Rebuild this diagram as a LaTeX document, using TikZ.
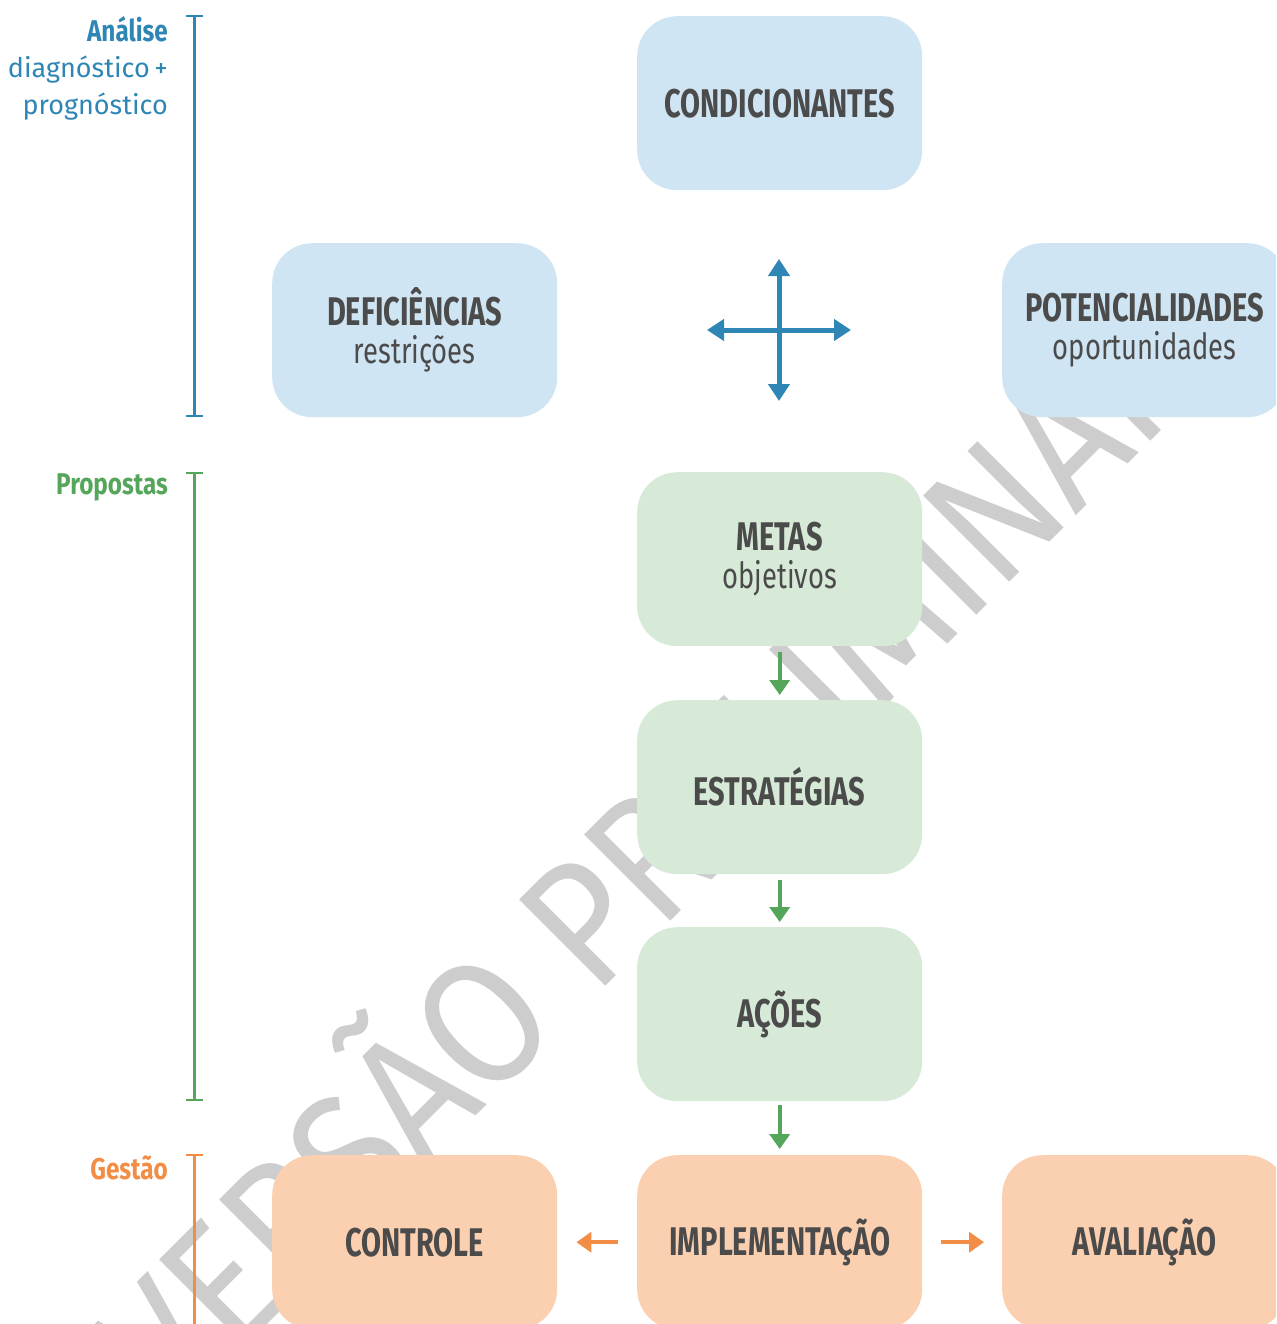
\documentclass[tikz,border=0pt]{standalone}
\usepackage{fontspec}
\setmainfont{Fira Sans}
\usetikzlibrary{arrows.meta}
\definecolor{bluebox}{HTML}{CFE5F3}
\definecolor{bluec}{HTML}{2E86B5}
\definecolor{greenbox}{HTML}{D7EAD8}
\definecolor{greenc}{HTML}{55A65A}
\definecolor{orangebox}{HTML}{FAD0B1}
\definecolor{orangec}{HTML}{F28D45}
\definecolor{txt}{HTML}{4B4B4B}
\definecolor{wmgray}{HTML}{CDCDCD}
\newcommand{\bigt}[1]{\scalebox{0.725}[1]{\fontsize{40}{38}\selectfont\bfseries #1}}
\newcommand{\smallt}[1]{\scalebox{0.76}[1]{\fontsize{36}{38}\selectfont #1}}
\newcommand{\sidet}[1]{\scalebox{0.81}[1]{\bfseries #1}}
\begin{document}
\begin{tikzpicture}[x=1pt,y=-1pt,
  box/.style={rounded corners=40pt, minimum width=285pt, minimum height=174pt,
    anchor=north west, align=center, text=txt, inner sep=0pt,
    font=\fontsize{36}{38}\selectfont},
  bluebx/.style={box, fill=bluebox},
  greenbx/.style={box, fill=greenbox},
  orangebx/.style={box, fill=orangebox},
  crossarrow/.style={bluec, line width=5pt, {Triangle[width=21pt,length=17pt]}-{Triangle[width=21pt,length=17pt]}},
  garrow/.style={greenc, line width=4pt, -{Triangle[width=20pt,length=15pt]}},
  oarrow/.style={orangec, line width=4pt, -{Triangle[width=20pt,length=15pt]}},
  lbl/.style={anchor=east, inner sep=0pt, align=right},
  brk/.style={line width=2.5pt}
]
\useasboundingbox (0,0) rectangle (1276,1324);
\clip (0,0) rectangle (1276,1324);

% watermark
\node[text=wmgray, rotate=45, anchor=base, font=\fontsize{177}{177}\selectfont, inner sep=0pt] (wm) at (690,902) {\scalebox{0.9}[1]{VERSÃO PRELIMINAR}};

% boxes
\node[bluebx] (cond) at (637,16) {\bigt{CONDICIONANTES}};
\node[bluebx] (defic) at (272,243) {\bigt{DEFICIÊNCIAS}\\\smallt{restrições}};
\node[bluebx] (poten) at (1002,243) {\bigt{POTENCIALIDADES}\\\smallt{oportunidades}};
\node[greenbx] (metas) at (637,472) {\bigt{METAS}\\\smallt{objetivos}};
\node[greenbx] (estr) at (637,700) {\bigt{ESTRATÉGIAS}};
\node[greenbx] (acoes) at (637,927) {\bigt{AÇÕES}};
\node[orangebx] (impl) at (637,1155) {\bigt{IMPLEMENTAÇÃO}};
\node[orangebx] (ctrl) at (272,1155) {\bigt{CONTROLE}};
\node[orangebx] (aval) at (1002,1155) {\bigt{AVALIAÇÃO}};

% cross
\coordinate (ct) at (779,259);
\coordinate (cb) at (779,401);
\coordinate (cl) at (707,330);
\coordinate (cr) at (851,330);
\draw[crossarrow] (ct) -- (cb);
\draw[crossarrow] (cl) -- (cr);

% flow arrows
\draw[garrow, shorten <=6pt, shorten >=5pt] (metas) -- (estr);
\draw[garrow, shorten <=6pt, shorten >=5pt] (estr) -- (acoes);
\draw[garrow, shorten <=4pt, shorten >=6pt] (acoes) -- (impl);
\draw[oarrow, shorten <=19pt, shorten >=19pt] (impl) -- (ctrl);
\draw[oarrow, shorten <=19pt, shorten >=18pt] (impl) -- (aval);

% side brackets
\draw[bluec, brk] (186,16) -- (203,16) (194.5,16) -- (194.5,416) (186,416) -- (203,416);
\draw[greenc, brk] (186,473) -- (203,473) (194.5,473) -- (194.5,1100) (186,1100) -- (203,1100);
\draw[orangec, brk] (186,1155) -- (203,1155) (194.5,1155) -- (194.5,1330);

% side labels
\node[lbl, text=bluec, font=\fontsize{30}{30}\selectfont] (lanal) at (168,29) {\sidet{Análise}};
\node[lbl, text=bluec, font=\fontsize{27}{27}\selectfont] (ldiag) at (168,70) {diagnóstico\,+};
\node[lbl, text=bluec, font=\fontsize{27}{27}\selectfont] (lprog) at (168,107) {prognóstico};
\node[lbl, text=greenc, font=\fontsize{30}{30}\selectfont] (lprop) at (168,487) {\sidet{Propostas}};
\node[lbl, text=orangec, font=\fontsize{30}{30}\selectfont] (lgest) at (168,1168) {\sidet{Gestão}};
\end{tikzpicture}
\end{document}
